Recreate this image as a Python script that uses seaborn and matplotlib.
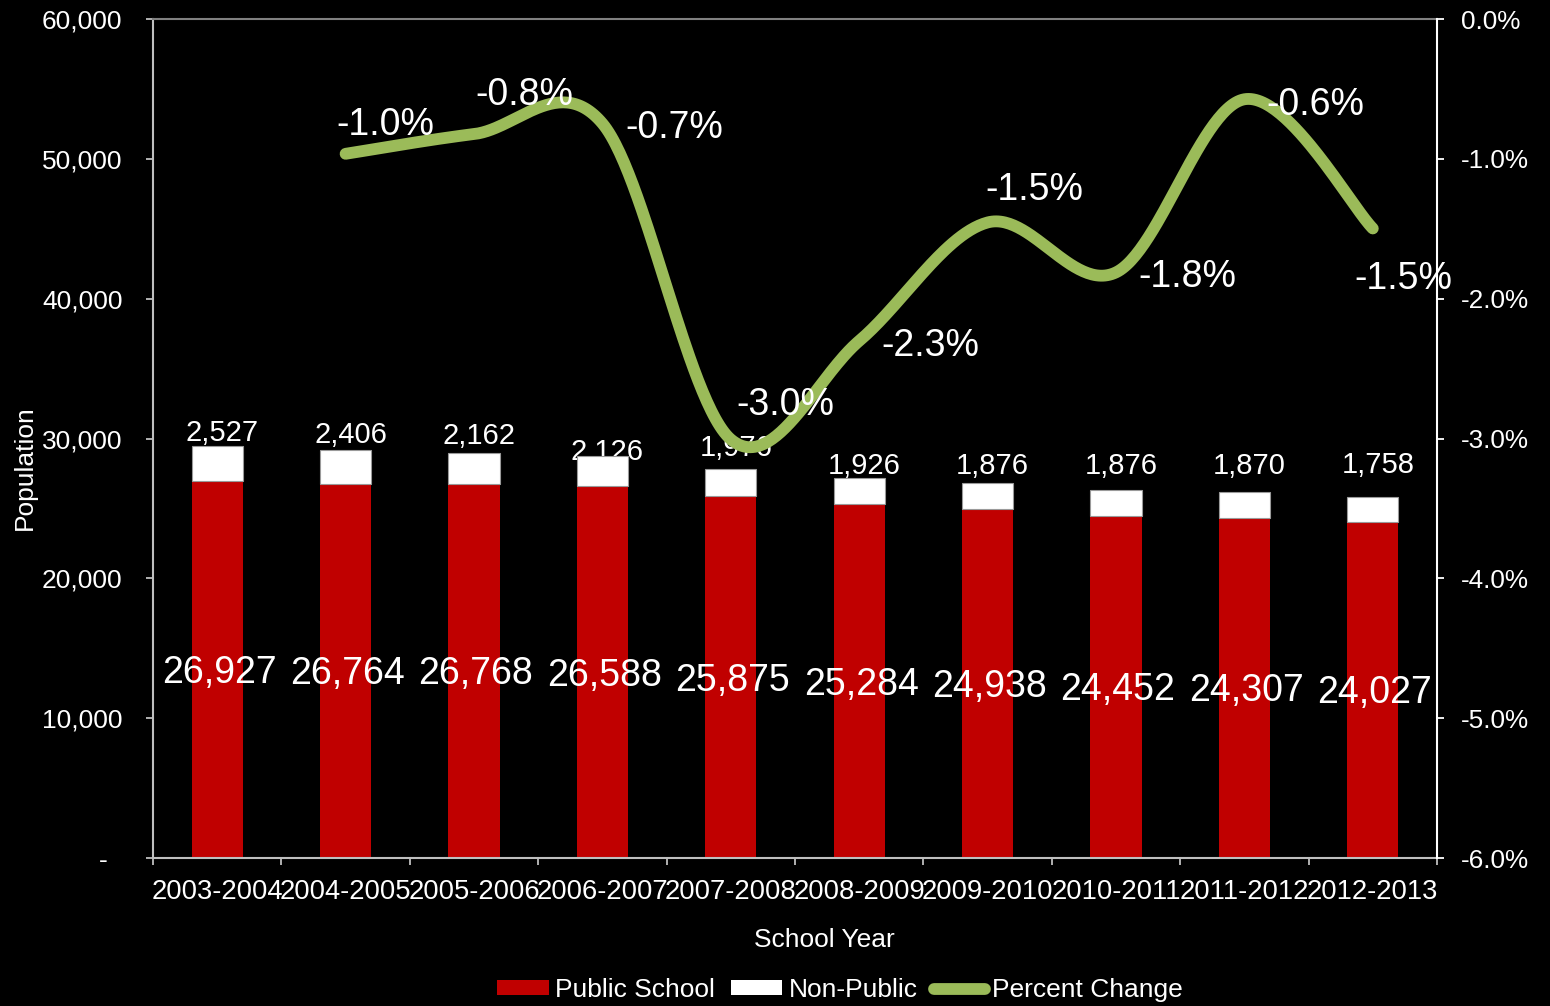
import numpy as np
import pandas as pd
import matplotlib
matplotlib.use("Agg")
import matplotlib.pyplot as plt
import seaborn as sns
from matplotlib.lines import Line2D
from matplotlib.patches import Patch
from matplotlib.ticker import FuncFormatter, FixedLocator

# ---- data -------------------------------------------------------------
school_years = ["2003-2004", "2004-2005", "2005-2006", "2006-2007", "2007-2008",
                "2008-2009", "2009-2010", "2010-2011", "2011-2012", "2012-2013"]
public_school = [26927, 26764, 26768, 26588, 25875, 25284, 24938, 24452, 24307, 24027]
non_public = [2527, 2406, 2162, 2126, 1976, 1926, 1876, 1876, 1870, 1758]
# year-over-year change in total enrollment (starts with 2004-2005)
percent_change = [-0.964, -0.823, -0.747, -3.006, -2.302, -1.455, -1.812, -0.574, -1.498]

# ---- label placement (pixels) -----------------------------------------
nonpublic_label_lift = [15.6, 18, 19.5, 6.5, 22.5, 14, 19.5, 26, 28.5, 34.4]
pct_label_shift = [(40, -32), (50, -43), (72, 1), (55, -38), (71, 2),
                   (47, -36), (71, 1), (71, 2), (31, 47)]

RED = "#C00000"
GREEN = "#9BBB59"
GRID_GREY = "#BFBFBF"

sns.set_style("dark")
plt.rcParams["font.family"] = ["Liberation Sans", "DejaVu Sans"]
plt.rcParams["text.color"] = "white"

W, H = 1550, 1006
fig = plt.figure(figsize=(W / 100, H / 100), dpi=100, facecolor="black")
left, right, top, bottom = 153, 1437, 19, 858
ax = fig.add_axes([left / W, 1 - bottom / H, (right - left) / W, (bottom - top) / H])
ax.set_facecolor("black")

df = pd.DataFrame({"year": school_years, "public": public_school, "nonpublic": non_public})
xpos = np.arange(len(school_years))

sns.barplot(data=df, x="year", y="public", color=RED, saturation=1, width=0.4,
            linewidth=0, ax=ax, zorder=2)
ax.bar(xpos, df["nonpublic"], bottom=df["public"], width=0.4, color="white",
       edgecolor="#9a9a9a", linewidth=0.8, zorder=2)

ax.set_xlim(-0.5, len(school_years) - 0.5)
ax.set_ylim(0, 60000)
ax.set_yticks(np.arange(0, 60001, 10000))
ax.yaxis.set_major_formatter(FuncFormatter(lambda v, p: "-  " if v == 0 else f"{int(v):,}"))
ax.tick_params(axis="y", colors=GRID_GREY, labelcolor="white", labelsize=19,
               length=5, width=1.3, pad=17, direction="out", left=True)
ax.set_xticks(xpos)
ax.set_xticklabels(school_years)
ax.xaxis.set_minor_locator(FixedLocator(np.arange(-0.5, len(school_years), 1.0)))
ax.tick_params(axis="x", which="major", length=0, labelcolor="white", labelsize=19.7, pad=15)
ax.tick_params(axis="x", which="minor", length=5, width=1.3, color=GRID_GREY,
               direction="out", bottom=True)
ax.set_xlabel("")
ax.set_ylabel("")
ax.grid(False)

for side, col in [("top", "#808080"), ("left", GRID_GREY), ("bottom", GRID_GREY)]:
    ax.spines[side].set_visible(True)
    ax.spines[side].set_color(col)
    ax.spines[side].set_linewidth(1.5)
ax.spines["right"].set_visible(False)

px = 100 / 72.0


def cap_half(size_pt):
    return 0.716 * size_pt * px / 2


# public school counts, centred in the red segment
for i, v in enumerate(public_school):
    ax.annotate(f"{v:,}", (i, v / 2), xytext=(2, -cap_half(27)), textcoords="offset pixels",
                ha="center", va="baseline", fontsize=27, color="white", zorder=3)

# non-public counts above each stack
for i, (p, n) in enumerate(zip(public_school, non_public)):
    ax.annotate(f"{n:,}", (i, p + n),
                xytext=(5, nonpublic_label_lift[i] - cap_half(21)),
                textcoords="offset pixels", ha="center", va="baseline",
                fontsize=21, color="white", zorder=1)

# ---- percent change on the secondary axis ------------------------------
ax2 = ax.twinx()
ax2.set_ylim(-6, 0)
ax2.set_yticks(np.arange(-6, 0.1, 1))
ax2.yaxis.set_major_formatter(FuncFormatter(lambda v, p: f"{v:.1f}%"))
ax2.tick_params(axis="y", colors="white", labelcolor="white", labelsize=18.8,
                length=5, width=1.3, pad=12, direction="out", right=True)
ax2.grid(False)
for side in ["top", "left", "bottom"]:
    ax2.spines[side].set_visible(False)
ax2.spines["right"].set_visible(True)
ax2.spines["right"].set_color("white")
ax2.spines["right"].set_linewidth(1.5)

pct_x = xpos[1:].astype(float)
pct_y = np.array(percent_change)

# smoothed path through the points (Catmull-Rom as cubic Bezier segments)
pts = np.column_stack([pct_x, pct_y])
ext = np.vstack([pts[0], pts, pts[-1]])
t = np.linspace(0, 1, 60)[:, None]
curve = []
for k in range(len(pts) - 1):
    p0, p1, p2, p3 = ext[k], ext[k + 1], ext[k + 2], ext[k + 3]
    c1 = p1 + (p2 - p0) / 6
    c2 = p2 - (p3 - p1) / 6
    seg = ((1 - t) ** 3) * p1 + 3 * ((1 - t) ** 2) * t * c1 + 3 * (1 - t) * t ** 2 * c2 + t ** 3 * p2
    curve.append(seg if k == 0 else seg[1:])
curve = np.vstack(curve)
ax2.plot(curve[:, 0], curve[:, 1], color=GREEN, lw=8.5, solid_capstyle="round",
         solid_joinstyle="round", zorder=3)

for (x, v), (dx, dy) in zip(zip(pct_x, percent_change), pct_label_shift):
    ax2.annotate(f"{v:.1f}%", (x, v), xytext=(dx, -dy - cap_half(27)),
                 textcoords="offset pixels", ha="center", va="baseline",
                 fontsize=27, color="white", zorder=4, annotation_clip=False)

# ---- axis titles and legend --------------------------------------------
fig.text(824 / W, 1 - 940 / H, "School Year", ha="center", va="center",
         fontsize=19, color="white")
fig.text(25 / W, 1 - 468 / H, "Population", ha="center", va="center",
         rotation=90, fontsize=19, color="white")

handles = [Patch(facecolor=RED, edgecolor="none", label="Public School"),
           Patch(facecolor="white", edgecolor="none", label="Non-Public"),
           Line2D([0], [0], color=GREEN, lw=8.5, solid_capstyle="round", label="Percent Change")]
fig.legend(handles=handles, loc="center", bbox_to_anchor=(840 / W, 1 - 990 / H),
           ncol=3, frameon=False, fontsize=19, labelcolor="white",
           handlelength=1.95, handleheight=0.5, handletextpad=0.25,
           columnspacing=0.6, borderpad=0, borderaxespad=0)

fig.savefig("out.png", dpi=100, facecolor="black")
